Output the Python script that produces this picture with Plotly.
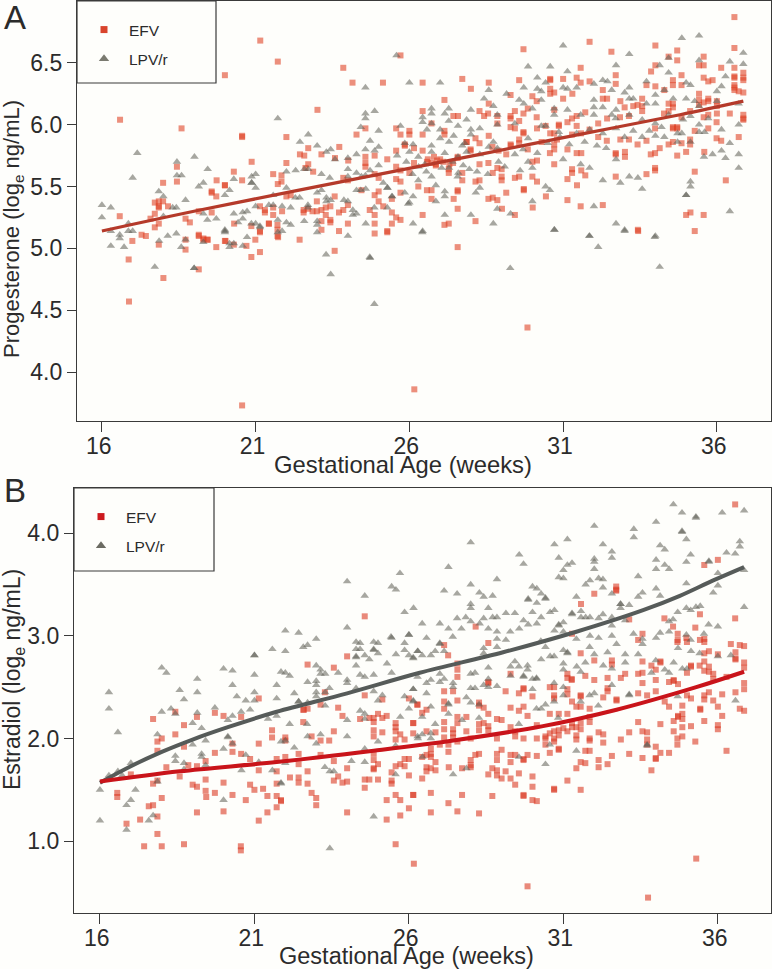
import plotly.graph_objects as go

week_ticks = [16, 21, 26, 31, 36]
week_labels = ["16\u00a0", "21\u00a0", "26\u00a0", "31\u00a0", "36\u00a0"]
prog_ticks = [4.0, 4.5, 5.0, 5.5, 6.0, 6.5]
estr_ticks = [1.0, 2.0, 3.0, 4.0]

prog_line_efv = [(16,5.14),(19.19,5.31),(25.04,5.6),(28.29,5.76),(31.5,5.92),(34.8,6.08),(36.86,6.19)]
estr_line_efv = [(16,1.58),(18.58,1.68),(21.72,1.77),(24.86,1.88),(27.43,1.98),(30.34,2.12),(32.72,2.28),(35.3,2.5),(36.85,2.65)]
estr_line_lpv = [(16,1.57),(17,1.73),(18,1.87),(19,1.99),(20.14,2.11),(21.72,2.26),(24,2.44),(26.35,2.64),(29.05,2.84),(31.42,3.04),(33.58,3.25),(34.77,3.39),(35.85,3.54),(36.85,3.67)]

prog_efv = [
(16.59,6.04),(18.59,5.97),(20.0,6.40),(21.15,6.68),(21.72,6.51),(20.56,5.91),(20.56,5.9),(23.01,6.12),(23.85,6.46),(24.15,6.34),(25.14,6.34),(22.0,5.90),(24.57,5.97),(24.28,5.92),(23.72,5.82),(22.71,5.81),(22.44,5.76),(22.58,5.75),(23.14,5.76),(23.58,5.73),(24.01,5.71),(24.57,5.74),(24.87,5.75),(25.28,5.72),(22.0,5.69),(22.71,5.68),(22.62,5.65),(22.87,5.62),(20.87,5.70),(20.29,5.62),(18.44,5.66),(18.44,5.54),(17.99,5.53),(19.73,5.55),(20.0,5.51),(20.56,5.55),(21.57,5.60),(21.84,5.59),(21.72,5.52),(21.84,5.54),(24.57,5.69),(24.57,5.66),(24.87,5.6),(25,5.57),(24,5.55),(23.85,5.57),
(16.58,5.26),(16.87,4.91),(16.99,5.06),(17.29,5.11),(17.43,5.1),(17.72,5.37),(17.85,5.38),(17.99,5.38),(17.85,5.34),(17.85,5.33),(18.15,5.34),(17.72,5.28),(17.58,5.24),(17.85,5.2),(17.72,5.17),(17.85,5.03),(18,4.76),(18.72,5.24),(18.86,5.21),(18.72,5.07),(18.72,4.99),(19.15,5.11),(19.15,5.1),(19.15,5.3),(19.57,5.45),(19.57,5.46),(19.72,5.42),(19.57,5.29),(19.3,5.07),(19.43,5.07),(19.72,5.01),(19.15,4.83),(20,5.51),(20.3,5.2),(20.86,5.18),(21.14,5.14),(21.43,5.2),(21.43,5.2),(21.14,5.34),(21.3,5.31),(21.3,5.29),(21.57,5.33),(21.57,5.27),(21.71,5.19),(21.71,5.15),(21.71,5.1),(21.86,5.3),(22,5.42),(22.14,5.43),(22.56,5.31),(22.56,5.29),(22.7,5.32),(22.85,5.3),(22.99,5.38),(22.99,5.3),(23.14,5.31),(23.28,5.33),(23.28,5.27),(23.14,5.22),(23.14,5.15),(23.43,5.34),(23.57,5.42),(23.43,5.23),(23.43,5.21),(23.71,5.29),(23.85,5.31),(23.71,5.14),(23.57,4.98),(24,5.35),(24,5.2),(24.44,5.47),(24.71,5.31),(24.87,5.43),(25,5.46),(25,5.38),(24.87,5.27),(24.87,5.2),(24.87,5.12),(25.15,5.34),(25.28,5.13),(25.43,5.4),(25.43,5.29),(25.57,5.25),(25.43,5.2),(20,5.06),(20.99,5.07),(20.7,5.02),(20.86,4.93),(21.14,4.97),(22.43,5.07),(16.88,4.57),(20.29,5.03),(20.02,5.06),(19.3,5.08),(19.44,5.07),(21.14,5.13),(21.73,5.09),(20.56,3.73),(26.16,3.86),(29.84,4.36),(27.57,5.01),(33.44,5.14),
(36.57,6.87),(31.86,6.67),(29.71,6.61),(25.71,6.56),(34,6.64),(32.57,6.59),(34.71,6.6),(36.57,6.62),(34.43,6.55),(34.71,6.52),(35.57,6.55),(35.57,6.48),(35.42,6.48),(34,6.48),(31.57,6.46),(36.14,6.46),(36.57,6.46),(36.86,6.42),(36.86,6.38),(36.86,6.36),(33.86,6.43),(32.71,6.4),(34.85,6.4),(35.57,6.38),(36.57,6.39),(36.57,6.38),(36.57,6.32),(36.57,6.3),(30.58,6.37),(30.58,6.36),(31,6.37),(31.44,6.38),(27.72,6.37),(29.57,6.36),(28.58,6.34),(26.43,6.34),(28,6.29),(31.57,6.34),(31.86,6.35),(32.71,6.33),(34.57,6.36),(34.57,6.32),(34.85,6.32),(35.86,6.36),(35.72,6.35),(33.71,6.32),(34,6.31),(29.29,6.24),(30,6.23),(30.58,6.29),(30.58,6.25),(30.71,6.26),(31.3,6.25),(32.29,6.28),(32.29,6.21),(32.43,6.21),(31,6.21),(27.14,6.2),(28.58,6.17),(30.14,6.19),(32.86,6.19),(33.57,6.21),(33.57,6.15),(33.57,6.11),(33.42,6.16),(33.28,6.15),(33,6.14),(34.29,6.28),(34.43,6.17),(34.43,6.11),(34.57,6.17),(35.42,6.25),(35.42,6.2),(35.42,6.16),(35.57,6.18),(35.72,6.19),(35.72,6.21),(36,6.19),(36,6.15),(36,6.09),(36.57,6.28),(36.71,6.27),(36.86,6.26),(36.86,6.08),(36.86,6.04),(36.86,6.05),(36.42,6.09),(36.71,5.9),(26.43,6.11),(28.28,6.11),(28.56,6.09),(28.43,6.07),(27.43,6.07),(27.58,6.07),(28.86,6.07),(29.29,6.07),(29.29,6.05),(29.43,6.11),(29.71,6.09),(29.85,6.13),(30.14,6.06),(30.71,6.12),(31.44,6.07),(31.29,6.05),(31.72,6.1),(32.43,6.05),(32.85,6.06),(33.14,6.07),(34.57,6.14),(34.28,6.09),(34.85,6.06),(35.13,6.11),(35.57,6.06),(35.72,6.08),(35.99,6.02),(26.72,6.01),(28.86,6.01),(29.29,5.98),(29.43,5.97),(29.57,6.03),(29.71,5.94),(29.71,5.93),(26,5.95),(25.71,5.92),(26,5.92),(26.43,5.92),(27.14,5.95),(27.14,5.92),(28.58,5.91),(28.15,5.89),(27.86,5.86),(27.86,5.86),(25.57,5.97),(30.15,5.97),(30.43,5.99),(30.58,5.93),(30.71,5.93),(30.86,6),(30.86,5.99),(31.14,6.02),(31.44,5.99),(31.29,5.92),(31.58,5.93),(31.86,5.96),(32.14,6.01),(32.14,5.9),(32.42,5.87),(32.86,5.88),(33.14,5.88),(33.42,5.84),(33.71,5.87),(33.99,5.97),(34.14,5.81),(34.43,5.84),(34.57,5.97),(34.57,5.98),(34.71,5.98),(34.71,5.97),(34.57,5.86),(34.85,5.85),(35.13,5.88),(35.13,5.84),(35.28,5.95),(35.72,5.97),(35.99,5.89),(36.14,5.87),(35.59,5.78),(34.71,5.75),(35,5.78),(33.99,5.77),(33.85,5.76),(33.01,5.78),(33.01,5.74),(32.71,5.77),(32.71,5.76),
(25.57,5.79),(25.85,5.84),(25.85,5.83),(26.15,5.81),(25.57,5.66),(25.71,5.63),(26,5.61),(26.15,5.69),(26.43,5.79),(26.57,5.7),(26.72,5.69),(26.86,5.67),(26.86,5.68),(27.28,5.64),(27.28,5.61),(27.42,5.69),(27.57,5.74),(27.57,5.73),(27.72,5.61),(27.99,5.8),(27.99,5.79),(28.28,5.85),(28.28,5.68),(28.57,5.69),(28.86,5.65),(28.71,5.61),(29,5.64),(29,5.58),(29,5.55),(29.15,5.76),(29.57,5.88),(29.29,5.84),(29.57,5.85),(29.85,5.8),(30.15,5.71),(30,5.7),(30.71,5.84),(30.71,5.8),(30.57,5.77),(30.71,5.68),(31.14,5.8),(31.44,5.77),(31.59,5.77),(31.29,5.64),(31.29,5.61),(31.59,5.63),(31.72,5.59),(31.14,5.56),(31.45,5.51),(31.14,5.39),(31.57,5.34),(32.29,5.35),(30.01,5.33),(30.44,5.42),(29.72,5.48),(29.72,5.47),(29.57,5.58),(29.43,5.57),(30,5.58),(30.15,5.54),(29.15,5.45),(28.71,5.41),(28.57,5.4),(28.86,5.39),(29.01,5.32),(29.43,5.27),(27.57,5.47),(27.57,5.46),(27.57,5.32),(27.44,5.4),(26.72,5.4),(26.72,5.47),(26.57,5.47),(26.43,5.27),(26.29,5.5),(25.71,5.54),(25.57,5.56),(25.71,5.45),(25.28,5.14),(25.71,5.23),(27.14,5.19),(27.28,5.2),(28.15,5.22),(28.28,5.55),(28.15,5.54),(27.72,5.55),(33.43,5.15),(35,5.27),(35.14,5.29),(35.57,5.27),(35.28,5.14),(36.29,5.55),(35.28,5.62),(33.99,5.65),(33.99,5.63),(33.71,5.6),(32.71,5.58),
(26.6,5.72),(26.8,5.74),(27,5.72),(27.1,5.7),(27.3,5.68),(26.9,5.71),(30.3,5.86),(30.8,5.88),(28.7,5.82),(28.9,5.79),(29.3,5.83)
]

prog_lpv = [
(16,5.35),(16.29,5.33),(16,5.25),(16.29,5.14),(16.86,5.2),(16.86,5.14),(17,5.14),(16.58,5.11),(16.58,5.08),(16.29,5.02),(16.72,5.01),(17.85,5.46),(18,5.42),(18.3,5.33),(18.42,5.33),(18.72,5.39),(18,5.26),(17.86,5.06),(18.14,5.1),(18.42,5.12),(17.72,4.85),(18.58,5.01),(18.72,5.07),(19,4.84),(19,4.84),(19.15,5.5),(19.3,5.53),(19.3,5.28),(19.43,5.23),(19.72,5.24),(19.3,5.05),(20,5.43),(20.15,5.47),(20.29,5.28),(20.58,5.29),(20.72,5.3),(20.58,5.24),(20.43,5.21),(20.86,5.2),(21,5.2),(21,5.34),(21.14,5.18),(21.14,5.17),(21.43,5.35),(21.57,5.35),(21.86,5.34),(22.14,5.33),(21,5.49),(20.87,5.53),(21.57,5.43),(22,5.49),(22.29,5.41),(22.43,5.41),(21.72,5.23),(21.86,5.14),(22,5.21),(22.14,5.19),(22.58,5.22),(23,5.22),(23,5.19),(23,5.13),(20,5.15),(20,5.13),(20,5.14),(20.15,5.04),(20.15,5.01),(20.29,5.04),(20.58,5.02),(20.72,5.09),(23.29,4.95),(23.44,4.79),(24,5.1),(24.71,4.93),(24.58,5.2),(23.3,5.41),(23.3,5.38),(23.44,5.39),(23.87,5.39),(24,5.38),(23,5.45),(23.14,5.47),(22.7,5.35),(22.7,5.33),(24.16,5.31),(24.28,5.28),(24.16,5.27),(24.86,5.33),(25.28,5.33),(24.28,5.47),(24.42,5.47),(24.58,5.48),(25.44,5.42),(25.28,5.49),(25.15,5.53),(25.96,5.36),(21.72,5.13),
(17.15,5.77),(17,5.57),(18.44,5.70),(18.44,5.59),(18.59,5.59),(19.01,5.74),(19.44,5.64),(20.29,5.56),(20.87,5.58),(21,5.6),(20.87,5.53),(21.72,6.05),(22,5.62),(22.3,5.63),(22.58,5.64),(22.71,5.64),(22.44,5.86),(22.71,5.92),(23,5.83),(23.3,5.78),(23.44,5.80),(23.58,5.72),(24,5.73),(24.28,5.76),(24.42,5.98),(24.57,6.30),(24.57,6.09),(24.57,6.05),(24.87,6.11),(25,5.95),(24.72,5.87),(24.57,5.80),(25,5.82),(24.87,5.79),(24,5.64),(24.28,5.61),(24.57,5.59),(24.72,5.63),(25,5.67),(24,5.58),(24.44,5.58),(23.14,5.6),(23.41,5.57),
(25.58,6.56),(26,6.34),(27,6.34),(28.58,6.28),(26.72,6.13),(27.28,6.13),(28,6.12),(26.43,6.06),(26.72,6.09),(29.16,6.25),(28.43,6.21),(28.73,6.15),(29.72,6.30),(29.86,6.47),(30.58,6.47),(31,6.64),(31.14,6.43),(32.72,6.48),(33.15,6.57),(34.86,6.70),(35.42,6.72),(34.14,6.48),(36.86,6.58),(36.86,6.49),(36.42,6.51),(36.28,6.39),(30.16,6.38),(30.43,6.34),(30.16,6.29),(30.29,6.27),(31,6.30),(31.14,6.29),(31.44,6.30),(32,6.33),(32.29,6.36),(32.44,6.35),(32.58,6.28),(33.71,6.35),(33.15,6.30),(33,6.26),(34.43,6.54),(34.43,6.42),(35.42,6.52),(35,6.34),(35.14,6.32),(34,6.24),(34.29,6.28),(36.15,6.31),(36,6.27),(29.57,6.20),(29.72,6.17),(30,6.13),(30.29,6.20),(30.71,6.13),(31.14,6.12),(32,6.20),(32,6.14),(32.29,6.14),(32.72,6.12),(33.15,6.21),(33.28,6.21),(33.71,6.17),(34,6.17),(34.58,6.21),(35,6.21),(35.28,6.19),(35.42,6.15),(36,6.19),(36.71,6.17),(26.43,6.02),(26.72,6.01),(27.28,6.03),(27.86,6.04),(28.86,6.08),(28.86,6),(28.29,5.97),(27.58,5.99),(27.15,6.09),(26.57,5.96),(27,5.96),(28,5.96),(29.43,6.01),(30.29,5.99),(30.71,6.08),(31.57,6.08),(32,6.08),(32.58,6.08),(32.71,6.05),(33.15,6.08),(33.57,6.04),(34,6.01),(34.43,6.08),(35.14,6.07),(35.72,6.05),(36.71,6),(36.15,5.96),(35.42,6),(35.42,5.94),(34.86,5.93),(34.72,5.93),(34,5.91),(33.57,5.9),(33.28,5.95),(32.72,5.97),(32.29,5.93),(31.86,5.96),(31.44,5.93),(30.86,5.94),(30.43,5.99),(29.86,5.89),(28.73,5.86),(28.58,5.82),(28,5.92),(27.72,5.83),(27.44,5.91),(27.29,5.86),(27,5.89),(26.72,5.83),(26.12,5.84),(25.85,5.85),(25.71,5.99),(26,5.78),(26.29,5.74),(26.72,5.78),(27.15,5.77),(27.58,5.74),(27.86,5.78),(28.29,5.76),(28.86,5.81),(29.43,5.76),(29.7,5.8),(30.16,5.77),(29.86,5.7),(30,5.65),(31,5.72),(31.57,5.68),(31.86,5.65),(32.72,5.72),(32.29,5.55),(32.86,5.53),(33.15,5.58),(33.43,5.57),(33.57,5.48),(35.14,5.54),(35.14,5.5),(35,5.43),(35,5.43),(35.58,5.74),(35.86,5.76),(36.15,5.79),(36.28,5.73),(36.71,5.76),(36.71,5.65),(36.42,5.85),(35.14,5.86),(34.72,5.86),(34.29,5.9),(32,5.34),(31.85,5.1),(33,5.15),(32.72,5.2),(34,5.1),(36.42,5.3),(30.71,5.15),(30,5.38),(30.43,5.5),(30.57,5.47),(29.29,5.28),(28.86,5.32),(28,5.27),(28.73,5.2),(26.43,5.14),(26.12,5.2),(27.15,5.27),(27.15,5.42),(27.15,5.46),(26.86,5.38),(26,5.37),(26.12,5.42),(25.43,5.42),(28.16,5.45),(28.29,5.49),(27.59,5.61),(27.57,5.58),(27.29,5.65),(26.72,5.58),(26.29,5.55),(26.86,5.51),(25.85,5.45),(25.29,5.49),
(24.86,4.55),(24.72,4.92),(29.28,4.84),(34.14,4.85),(33.98,5.09),(33,5.14),(32.14,5.01),(31.86,5.1),(30.72,5.15),(26.42,5.13),
(25.6,5.75),(25.9,5.7),(26.3,5.66),(26.5,5.68),(27.05,5.65),(27.4,5.7),(27.75,5.67),(27.95,5.64),(28.2,5.62),(28.55,5.6),(28.9,5.7),(29.1,5.66),(29.6,5.63),(30.5,5.85),(30.9,5.9),(31.2,5.84),(31.7,5.86),(32.1,5.83),(32.4,5.81),(33,5.9),(33.8,5.95),(34.2,5.98),(34.9,6.04),(35.6,5.94),(26.1,5.6),(26.55,5.62),(27.8,5.85)
]

estr_efv = [
(17.72,2.19),(18.72,2.13),(18.44,2.04),(18,2),(17.86,1.97),(17.86,1.88),(18.44,2.26),(19.14,2.21),(19.72,2.25),(20,2.22),(20.57,2.21),(21.14,2.39),(22.72,2.72),(23.57,2.69),(24,2.8),(23.28,2.45),(23.14,2.33),(22.58,2.28),(22.72,2.29),(22.6,2.28),(22.58,2.16),(21.57,2.08),(21.57,2.01),(22,2.01),(22,1.98),(22.85,2.02),(23.14,1.98),(23.42,1.98),(23.57,2.07),(23.71,2.3),(23.85,2.22),(24.42,2.19),(24.57,2.42),(25.14,2.38),(24.72,2.2),(24.86,2.2),(24.86,2.16),(25,2.24),(25.14,2.2),(25.28,2.22),(24.86,2.08),(24.86,2.02),(25.14,2.06),(25.57,2.15),(25.57,2.11),(25.57,2.07),(25.57,1.99),(25.72,2.04),(25.86,1.99),(26.14,2.15),(26.14,2.05),(26,2.39),(26.28,2.33),(18.72,1.92),(20.29,1.95),(21.14,1.95),(19.72,1.86),(20.29,1.87),(20.57,1.85),(20.86,1.8),(19.42,1.78),(19.14,1.73),(18.86,1.74),(18.15,1.72),(17,1.65),(18.58,1.63),(17.72,1.56),(17.86,1.59),(19.42,1.6),(20,1.57),(19,1.55),(19.14,1.53),(19.42,1.49),(19.44,1.43),(19.72,1.47),(20.29,1.45),(20.72,1.4),(20.86,1.55),(21,1.5),(21.28,1.51),(21.14,1.69),(21.14,1.2),(21.42,1.44),(21.42,1.28),(21.72,1.56),(21.72,1.68),(21.72,1.44),(21.72,1.33),(21.86,1.4),(21.86,1.39),(21.72,1.8),(22,1.82),(22.43,1.85),(22.43,1.75),(22.15,1.62),(22.43,1.62),(22.43,1.57),(22.72,1.68),(22.72,1.56),(22.85,1.47),(23,1.42),(23,1.35),(23.14,1.84),(23.57,1.78),(24,1.71),(23.57,1.59),(23.71,1.63),(23.85,1.57),(24,1.58),(24.57,1.6),(24.72,1.6),(24.57,1.52),(25,1.6),(24.86,1.79),(24.86,1.85),(24.86,1.71),(24.86,1.7),(25,1.75),(25.44,1.67),(25.44,1.59),(25.44,1.56),(25.57,1.73),(25.72,1.75),(25.86,1.8),(25.86,1.73),(26,1.8),(26,1.64),(26.14,1.45),(25.57,1.45),(25.28,1.4),(25.72,1.4),(26,1.32),(25.72,1.25),(25.28,1.21),(24,1.28),(19.14,1.28),(20,1.29),(17.72,1.35),(17.58,1.34),(18,1.42),(16.56,1.47),(16.56,1.43),(17.86,1.24),(17.3,1.21),(16.86,1.17),(17.86,1.07),(17.43,0.95),(18,0.95),(18.72,0.97),(20.56,0.95),(20.56,0.91),(25.57,0.97),(24.57,3.19),
(26.16,0.78),(29.84,0.56),(33.74,0.45),(35.3,0.83),
(27.14,2.91),(28.57,2.93),(27.27,2.81),(27.57,2.73),(27.57,2.67),(27.57,2.6),(27.14,2.46),(27.43,2.46),(27.57,2.37),(27.14,2.36),(27.14,2.29),(28.27,2.35),(28.27,2.32),(28.42,2.3),(28.57,2.55),(28.57,2.54),(28.57,2.24),(29.13,2.46),(29.29,2.63),(29.56,2.44),(29.71,2.49),(29.71,2.48),(30,2.41),(29.29,2.3),(29.56,2.27),(29.71,2.31),(29.84,2.22),(28.85,2.19),(29,2.18),(27.57,2.21),(27.86,2.21),(27.57,2.15),(27.86,2.07),(27.14,2.16),(27.14,2.09),(27.43,2.09),(27.43,2.05),(27.43,2.01),(26.57,2.28),(26.43,2.25),(26.27,2.33),(26.14,2.15),(26.57,2.07),(26.86,2.06),(27,1.94),(27.14,2.01),(27.28,1.94),(27.28,1.87),(27.57,1.97),(28,2),(28.27,2.14),(28.27,2.08),(28.57,2.12),(28.57,2.08),(28.42,2.15),(28.85,2),(29.29,2.11),(29.44,2.07),(29.44,2.02),(29.71,2),(30.14,2),(30.14,2.13),(30.42,2.02),(30.42,2),(30.56,2.24),(30.85,2.24),(30.7,2.5),(30.7,2.42),(30.7,2.39),(30.56,2.5),(31.13,2.63),(31.13,2.59),(31.27,2.58),(31.27,2.57),(31.56,2.83),(31.71,2.61),(32,2.76),(32,2.57),(32.43,2.59),(32.57,2.76),(32.57,2.72),(32.86,2.59),(33,2.63),(32.43,2.49),(32.43,2.46),(32.29,2.4),(32.72,2.38),(32.72,2.37),(31.13,2.48),(31.13,2.43),(31.56,2.42),(31.56,2.41),(31.28,2.36),(31.42,2.31),(31.56,2.31),(31.85,2.29),(31.13,2.24),(31.42,2.11),(31.56,2.15),(31.56,2.09),(31.28,2.15),(31.28,2.11),(31.13,2.07),(31,2.1),(30.85,2.08),(30.85,2.03),(30.7,2.07),(30.7,2),(30.7,1.97),(30.56,2.05),(30.42,1.94),(30.56,1.86),(30.85,1.9),(30.85,1.89),(31.42,2.03),(31.42,1.99),(31.85,2.21),(31.85,2.16),(31.85,2),(31.85,1.98),(31.71,1.88),(31.85,1.88),(31.56,1.77),(31.71,1.76),(31.42,1.71),(32.14,2.06),(32.29,2.04),(32.29,1.96),(32.14,1.79),(32.14,1.72),(32.43,1.75),(32.57,1.83),(32.86,1.99),(33.13,2.06),(33.13,1.85),(33.56,1.81),(33.42,2.16),(33.56,2.07),(33.71,2.06),(33.71,1.99),(33.99,1.92),(33.99,1.81),(33.99,1.8),(34.14,1.86),(34.42,1.86),(34.14,2.14),(33.71,1.94),(33.85,1.69),(34.57,2.17),(34.57,2.07),(34.71,2.22),(34.71,2.21),(34.85,2.24),(34.85,2.19),(34.85,2.11),(34.85,2.02),(34.69,2),(34.69,1.94),(35.13,2.12),(35.27,1.97),(35.56,2.17),(35.43,2.29),(35.43,2.28),(36,2.13),(36,2.09),(36.14,2.22),(36.28,1.88),(36,2.31),(35.85,2.37),(35.71,2.45),(35.56,2.42),(35.56,2.38),(35.13,2.39),(35,2.42),(34.85,2.32),(34.42,2.31),(34.28,2.36),(33.99,2.46),(33.71,2.42),(33.42,2.44),(33.56,2.54),(33.42,2.63),(33.56,2.64),(33.56,2.75),(33.85,2.71),(33.99,2.67),(33.99,2.57),(34.14,2.75),(34.14,2.74),(34.42,2.55),(34.57,2.57),(34.57,2.56),(34.71,2.53),(35,2.64),(35.13,2.71),(35.13,2.7),(35.41,2.71),(35.56,2.75),(35.56,2.66),(35.71,2.85),(35.56,2.83),(35.71,2.7),(35.71,2.65),(35.85,2.63),(35.85,2.58),(36,2.82),(36.42,2.92),(36.57,2.84),(36.57,2.78),(36.57,2.77),(36.71,2.91),(36.85,2.9),(36.85,2.74),(36.85,2.69),(36.85,2.54),(36.85,2.48),(36.57,2.45),(36.71,2.29),(36.85,2.27),(34.69,2.94),(35,2.94),(35.56,2.94),(36.14,2.43),(36.28,2.6),
(26.71,1.9),(26.71,1.85),(26.71,1.82),(26.57,1.84),(26.43,1.82),(26.57,1.72),(26.57,1.68),(26.71,1.71),(26.86,1.77),(26.86,1.69),(27.29,1.72),(27.72,1.71),(28,1.79),(28,1.74),(28,1.72),(28.15,1.84),(28.27,1.85),(28.57,1.65),(28.7,1.71),(28.85,1.85),(28.85,1.79),(28.85,1.69),(28.85,1.64),(29,1.89),(29,1.61),(29.13,1.68),(29.29,1.84),(29.29,1.77),(29.29,1.61),(29.44,1.84),(29.44,1.55),(29.56,1.66),(29.71,1.8),(29.71,1.79),(29.84,1.84),(30,1.63),(30,1.53),(30.14,1.83),(30.7,1.51),(30.7,1.5),(31.13,1.59),(31.56,1.5),(26.43,1.61),(26.14,1.45),(26.71,1.47),(27.72,1.45),(27.28,1.37),(27.57,1.29),(26.71,1.28),(28.27,1.27),(28.7,1.44),(29.71,1.45),(29.71,1.44),(30,1.4),(30.14,1.39),
(36.56,4.28),(35.56,3.69),(36,3.74),(32,3.41),(32.71,3.48),(32.71,3.44),(32.71,3.45),(31.57,3.31),(34.27,3.17),(35.42,3.21),(36.56,3.17),(33.13,3.16),(34.55,3.09),(35.27,3.08),(28.16,3.09),(33.56,3.02),(33.42,2.96),(31.28,3.02),(34.7,3.02),(34.7,2.96),(34.98,2.98),(35.42,2.96),(35.56,2.97)
]

estr_lpv = [
(16.29,2.45),(16.29,2.29),(16.58,2.06),(16,1.50),(16,1.20),(16.86,1.35),(17,1.40),(16.86,1.11),(17.15,1.50),(17.58,1.20),(17.72,1.25),(17.86,2.04),(17.86,1.58),(17,1.76),(16.58,1.68),(16.72,1.64),(16.29,1.64),(18,2.69),(18.15,2.64),(18,2.26),(18.3,2.29),(18.44,2.24),(18.58,2.47),(18.72,2.38),(19.15,2.58),(19.15,2.45),(19.15,2.25),(19,2.15),(19.29,2.1),(19,1.94),(19.42,1.98),(18.44,1.83),(18.44,1.78),(18.72,1.76),(19.29,1.85),(19.29,1.82),(18.72,1.70),(19.42,1.74),(19.72,2.3),(20,2.68),(20.29,2.66),(20.29,2.52),(20.43,2.41),(20.29,2.22),(20.14,2.18),(20.14,2.02),(20.14,2.01),(20.29,1.95),(20,1.9),(20,1.40),(20.72,2.37),(20.57,2.26),(20.86,2.28),(21,2.81),(21,2.81),(21,2.62),(21,2.45),(21,2.37),(21.58,2.87),(22,3.05),(22,2.85),(22.43,3.03),(22.58,2.89),(22.72,2.91),(23,2.97),(21.72,2.52),(21.72,2.39),(21.86,2.65),(22,2.64),(22.14,2.61),(22.29,2.44),(22.43,2.36),(22.72,2.55),(23,2.71),(23.14,2.67),(23.14,2.63),(23.29,2.63),(23.71,2.64),(24,3.08),(24.29,2.94),(24.42,2.93),(24.29,2.87),(24.42,2.87),(24.29,2.8),(24.29,2.79),(24.57,2.81),(24.72,2.77),(24.29,2.71),(24.86,2.94),(25,2.93),(24.86,2.87),(24.86,2.86),(25,2.83),(25.44,2.98),(26,3.01),(25.86,2.93),(25.86,2.86),(25.58,2.82),(26,2.81),(26.14,2.79),(26.28,2.85),(25.29,2.73),(25.44,2.64),(24.86,2.62),(24.42,2.62),(24.57,2.6),(24,2.57),(24,2.54),(23.43,2.49),(23.29,2.45),(23,2.56),(23,2.52),(23,2.45),(23,2.41),(22.43,2.36),(22.72,2.35),(23.29,2.32),(24.29,2.49),(24.86,2.46),(25.14,2.42),(25,2.37),(25.86,2.41),(26.14,2.48),(26.14,2.37),(26,2.29),(26.28,2.6),(24.42,2.27),(24.57,2.24),(24.57,2.19),(24,2.18),(25.72,2.21),(22.7,2.14),(22.14,2.14),(21.44,2.19),(21.72,2.22),(22,1.98),(21.86,1.97),(22.29,1.91),(22.72,2.02),(23.14,2.04),(23,1.95),(24,2.02),(25,1.97),(25.57,1.93),(26.28,2.02),(21.14,1.77),(20.72,1.84),(20.58,1.69),(22,1.76),(21.58,1.69),(21.86,1.57),(21.86,1.56),(23.28,1.72),(23.44,1.68),(23.57,1.68),(24.14,1.78),(24.57,1.9),(24.57,1.77),(25.57,1.65),(24.86,1.24),(23.44,0.93),(24,3.53),(24.57,3.39),
(27,2.93),(27,2.92),(26.29,2.85),(26.43,2.81),(26.71,2.81),(26.85,2.85),(27.14,2.85),(26.14,2.78),(28.42,2.88),(28.42,2.83),(28.85,2.89),(28.57,2.69),(28,2.63),(28.14,2.64),(28.57,2.58),(29.29,2.7),(29.43,2.75),(29.56,2.7),(29.84,2.71),(29.84,2.67),(29.29,2.61),(29.71,2.61),(29.71,2.6),(30,2.58),(30.13,2.59),(30.13,2.58),(30.28,2.77),(30.57,2.8),(30.7,2.8),(31,2.86),(31.13,2.83),(31.13,2.84),(30.42,2.89),(31,2.73),(31,2.67),(30.7,2.54),(31,2.5),(31.43,2.7),(31.71,2.74),(31.56,2.65),(31.85,2.89),(32,2.82),(32.43,2.84),(32.72,2.92),(33,2.82),(33,2.74),(33.42,2.82),(33.56,2.92),(33.85,2.64),(33.99,2.76),(34.28,2.67),(34.42,2.64),(34.57,2.74),(34.85,2.68),(35,2.68),(34.71,2.88),(35.13,2.85),(35.41,2.83),(36,2.8),(36.42,2.81),(32.29,2.71),(32.57,2.68),(32.57,2.52),(33.13,2.43),(33.13,2.42),(32,2.44),(31.85,2.42),(31.56,2.36),(32.13,2.32),(31,2.42),(30.7,2.36),(30.42,2.33),(30.28,2.29),(30.13,2.29),(30,2.48),(30.83,2.2),(29.56,2.14),(28.27,2.2),(28.27,2.33),(28,2.35),(27.86,2.4),(27.43,2.54),(27.43,2.5),(27,2.63),(27.14,2.58),(27,2.55),(26.71,2.57),(26.57,2.54),(26.57,2.44),(28.14,2.49),(28,2.49),(28.42,2.52),(28.57,2.5),(28.85,2.51),(26.14,2.48),(26.14,2.36),(26.71,2.31),(26.43,2.21),(27.28,2.34),(27.28,2.33),(27.28,2.24),(27.72,2.18),(26.85,2.14),(26.29,2),(26.43,2.04),(26.71,2.05),(26.71,2),(30.56,1.94),(31.42,1.88),(30.42,1.75),(29.56,1.82),(33.71,1.94),(33.71,1.93),(36.57,2.37),(34.7,2.41),(26.44,1.82),(27.43,1.65),(27.86,1.71),
(34.56,4.28),(34.84,4.2),(35.29,4.16),(35.29,4.15),(36.14,4.2),(36.85,4.22),(34,4.11),(32,4.07),(33.28,4.04),(33.28,3.96),(34.84,4.02),(34.84,4.01),(34.98,3.94),(34.13,3.88),(34.28,3.84),(36.71,3.92),(36.71,3.87),(36.28,3.81),(36.56,3.8),(35.12,3.79),(34.98,3.72),(34,3.74),(34,3.65),(34.28,3.69),(34.42,3.65),(35.71,3.73),(35.71,3.72),(36.85,3.64),(33.42,3.58),(28,3.91),(30.71,3.89),(31.13,3.94),(32.28,3.89),(32.57,3.82),(32.57,3.76),(32,3.75),(32,3.72),(32,3.65),(30.85,3.76),(31.28,3.71),(31.13,3.69),(29.57,3.79),(29.71,3.7),(27.28,3.67),(31,3.64),(30.85,3.57),(31,3.56),(28.85,3.55),(25.71,3.61),(25.44,3.48),(25.58,3.45),(31.86,3.54),(31.72,3.5),(32.14,3.56),(32.28,3.55),(32.28,3.47),(32.57,3.41),(32.85,3.31),(33.42,3.38),(33.56,3.42),(34,3.46),(34.13,3.39),(34.98,3.51),(36,3.61),(36,3.49),(35.85,3.42),(28,3.5),(27.14,3.44),(27.56,3.41),(28.28,3.42),(28.42,3.38),(28.71,3.39),(30,3.48),(30.14,3.46),(29.86,3.36),(29.86,3.35),(30.28,3.41),(30.42,3.37),(30.42,3.36),(30.14,3.32),(31.42,3.38),(28,3.31),(28,3.27),(28.57,3.27),(26.15,3.27),(25.86,3.23),(26.43,3.12),(27,3.12),(27.56,3.17),(27.84,3.18),(28,3.14),(28.42,3.17),(28.71,3.18),(28.85,3.18),(29.14,3.22),(29.43,3.22),(30,3.23),(29.71,3.15),(29.86,3.11),(30.14,3.12),(30.28,3.18),(30.57,3.23),(30.71,3.25),(31.28,3.22),(31.28,3.21),(31.57,3.24),(31.57,3.18),(31.72,3.18),(31.86,3.18),(32.14,3.17),(32.28,3.21),(32.57,3.18),(32.57,3.1),(32.85,3.31),(32.85,3.27),(33,3.15),(33.13,3.3),(34.55,3.16),(34.42,3.14),(34.7,3.23),(34.98,3.27),(35.12,3.25),(35.29,3.28),(35.43,3.29),(35.7,3.11),(36,3.09),(36.85,3.28),
(26,3.01),(25.42,2.99),(26.57,2.98),(27.28,3.07),(27.7,3.07),(27.42,2.99),(28.29,3.12),(28.57,3.07),(28.85,3.04),(28.85,2.97),(29.28,3.04),(29.14,2.96),(29.57,3.07),(30.71,3.05),(31,3.13),(30.85,3.11),(30.85,3.1),(31,3.04),(31.42,2.97),(31.86,3),(32.14,2.98),(32.57,3),(33.27,3.02),(33.56,2.97),(34,2.98),(34.13,3.03),(34.42,3.04),(34.98,3.01),(35.12,2.96),(35.55,3.02),(30.27,2.95)
]

EFV_RED = "rgba(222,62,32,0.58)"
EFV_RED_B = "rgba(218,58,36,0.6)"
LPV_GREY = "rgba(95,95,85,0.55)"
AXIS = "#3a3a3a"
INK = "#2b2b2b"
FONT = "Liberation Sans"


def unzip(pairs):
    return [p[0] for p in pairs], [p[1] for p in pairs]


fig = go.Figure()


def add_points(pairs, symbol, colour, size, axes):
    xs, ys = unzip(pairs)
    fig.add_trace(go.Scatter(x=xs, y=ys, mode="markers", showlegend=False,
                             marker=dict(symbol=symbol, size=size, color=colour, line=dict(width=0)),
                             xaxis=axes[0], yaxis=axes[1]))


def add_curve(pairs, colour, width, axes):
    xs, ys = unzip(pairs)
    fig.add_trace(go.Scatter(x=xs, y=ys, mode="lines", showlegend=False,
                             line=dict(color=colour, width=width, shape="spline", smoothing=1),
                             xaxis=axes[0], yaxis=axes[1]))


def add_key(name, symbol, colour, size, axes, legend, group):
    fig.add_trace(go.Scatter(x=[None], y=[None], mode="markers", name=name,
                             marker=dict(symbol=symbol, size=size, color=colour, line=dict(width=0)),
                             xaxis=axes[0], yaxis=axes[1], legend=legend, legendgroup=group))


A = ("x", "y")
B = ("x2", "y2")
add_points(prog_efv, "square", EFV_RED, 6, A)
add_points(prog_lpv, "triangle-up", LPV_GREY, 7.5, A)
add_curve(prog_line_efv, "#b53a2a", 3.2, A)
add_key("EFV", "square", "#d9442c", 7, A, "legend", "a1")
add_key("LPV/r", "triangle-up", "#7a7a70", 9, A, "legend", "a2")

add_points(estr_efv, "square", EFV_RED_B, 6, B)
add_points(estr_lpv, "triangle-up", LPV_GREY, 7.5, B)
add_curve(estr_line_lpv, "#565b59", 4, B)
add_curve(estr_line_efv, "#c9141a", 4, B)
add_key("EFV", "square", "#cc1a1e", 7, B, "legend2", "b1")
add_key("LPV/r", "triangle-up", "#6b6b62", 9, B, "legend2", "b2")

W, H = 772, 969


def xaxis_style(left, right, lo, hi, anchor):
    return dict(domain=[left / W, right / W], range=[lo, hi], tickvals=week_ticks, ticktext=week_labels,
                ticks="outside", ticklen=10, tickwidth=1.2, tickcolor=AXIS, showline=True, linewidth=1.3,
                linecolor=AXIS, mirror=True, showgrid=False, zeroline=False, anchor=anchor,
                ticklabelstandoff=-6, tickfont=dict(size=23, color=INK, family=FONT))


def yaxis_style(top, bottom, lo, hi, ticks, anchor):
    return dict(domain=[(H - bottom) / H, (H - top) / H], range=[lo, hi], tickvals=ticks, tickformat=".1f",
                ticks="outside", ticklen=9, tickwidth=1.2, tickcolor=AXIS, showline=True, linewidth=1.3,
                linecolor=AXIS, mirror=True, showgrid=False, zeroline=False, anchor=anchor,
                tickfont=dict(size=23, color=INK, family=FONT))


xa = xaxis_style(77, 771, 15.19, 37.76, "y")
ya = yaxis_style(1, 421, 3.604, 7.0, prog_ticks, "x")
xb = xaxis_style(74, 771, 15.16, 37.72, "y2")
yb = yaxis_style(488, 913, 0.30, 4.44, estr_ticks, "x2")

shapes = [
    dict(type="rect", xref="paper", yref="paper", x0=77 / W, x1=216 / W, y0=(H - 83) / H, y1=(H - 1) / H,
         line=dict(color=AXIS, width=1.2)),
    dict(type="rect", xref="paper", yref="paper", x0=74 / W, x1=214 / W, y0=(H - 571) / H, y1=(H - 488) / H,
         line=dict(color=AXIS, width=1.2)),
]


def note(text, px, py, size, angle=0, xanchor="center"):
    return dict(text=text, x=px / W, y=(H - py) / H, xref="paper", yref="paper", xanchor=xanchor,
                yanchor="middle", showarrow=False, textangle=angle,
                font=dict(size=size, color=INK, family=FONT))


annotations = [
    note("A", 2, 17, 33, xanchor="left"),
    note("B", 2, 491, 33, xanchor="left"),
    note("Gestational Age (weeks)", 403, 464, 23.8),
    note("Gestational Age (weeks)", 406, 956, 23.5),
    note("Progesterone (log<sub>e</sub> ng/mL)", 13, 229, 22, angle=-90),
    note("Estradiol (log<sub>e</sub> ng/mL)", 13, 680, 23, angle=-90),
]

legend_common = dict(bgcolor="rgba(0,0,0,0)", borderwidth=0, tracegroupgap=6, itemsizing="trace", itemwidth=40,
                     font=dict(size=15.5, color=INK, family=FONT), xanchor="left", yanchor="top")

fig.update_layout(
    width=W, height=H, margin=dict(l=0, r=0, t=0, b=0), autosize=False,
    paper_bgcolor="#fefefc", plot_bgcolor="#fefefb",
    xaxis=xa, yaxis=ya, xaxis2=xb, yaxis2=yb,
    shapes=shapes, annotations=annotations,
    legend=dict(x=79 / W, y=(H - 13) / H, **legend_common),
    legend2=dict(x=76 / W, y=(H - 500) / H, **legend_common),
)

fig.write_html("out.html", config={"displayModeBar": False},
               post_script="document.documentElement.style.margin='0';document.body.style.margin='0';document.body.style.overflow='hidden';")
